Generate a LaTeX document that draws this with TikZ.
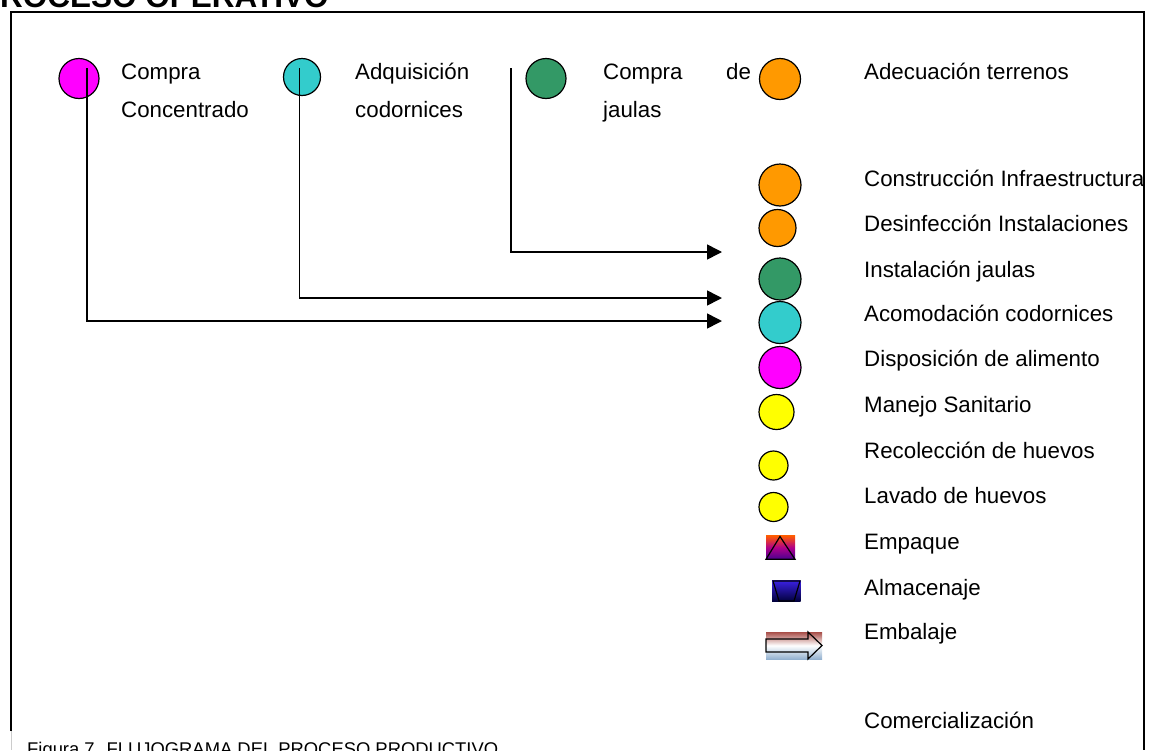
\documentclass[tikz,border=0pt]{standalone}
\usepackage{fontspec}
\setmainfont{Liberation Sans}
\usepackage{xcolor}
\definecolor{magCol}{HTML}{FF00FF}
\definecolor{cyaCol}{HTML}{33CCCC}
\definecolor{grnCol}{HTML}{339966}
\definecolor{orgCol}{HTML}{FF9900}
\definecolor{yelCol}{HTML}{FFFF00}
\definecolor{empTop}{HTML}{FF5A00}
\definecolor{empMid}{HTML}{B0008A}
\definecolor{empBot}{HTML}{4A0090}
\definecolor{almTop}{HTML}{3A20E0}
\definecolor{almBot}{HTML}{000038}
\definecolor{embTop}{HTML}{A84E48}
\definecolor{embBot}{HTML}{94B2D0}
\usetikzlibrary{arrows.meta,positioning}

\tikzset{
  dot/.style={circle, draw=black, line width=1.2pt, inner sep=0pt},
  lbl/.style={anchor=base west, inner sep=0pt, font=\fontsize{22.3}{26}\selectfont},
  flow/.style={->, line width=1.6pt},
}

\begin{document}
\begin{tikzpicture}[x=1pt, y=-1pt, >={Triangle[length=15pt, width=15pt]}]
    \useasboundingbox (0,0) rectangle (1149,750);
    \clip (0,0) rectangle (1149,750);

    % Parameters
    \def\colX{759}   % left edge of right column symbols
    \def\txtX{864}   % right column labels
    \def\tipX{722}   % arrow tips

    % Title and caption (cut by the page)
    \node[anchor=base west, inner sep=0pt, font=\bfseries\fontsize{31.5}{36}\selectfont] (title) at (-21,7) {PROCESO OPERATIVO};
    \node[anchor=base west, inner sep=0pt, font=\fontsize{18.4}{22}\selectfont] (caption) at (27,755) {Figura 7. FLUJOGRAMA DEL PROCESO PRODUCTIVO};

    % Frame
    \draw[line width=1.6pt] (11,731) -- (11,12) -- (1144,12) -- (1144,750);
    \draw[gray!40, line width=0.6pt] (11,731) -- (11,750);

    % Top row
    \node[dot, fill=magCol, minimum size=40pt] (cConc) at (79,78.5) {};
    \node[lbl] (tConcA) at (121,79) {Compra};
    \node[lbl] (tConcB) at (121,117) {Concentrado};

    \node[dot, fill=cyaCol, minimum size=37pt] (cCodo) at (302,77) {};
    \node[lbl] (tCodoA) at (355,79) {Adquisición};
    \node[lbl] (tCodoB) at (355,117) {codornices};

    \node[dot, fill=grnCol, minimum size=40pt] (cJaul) at (546,78.5) {};
    \node[lbl] (tJaulA) at (603,79) {Compra};
    \node[lbl] (tJaulDe) at (726,79) {de};
    \node[lbl] (tJaulB) at (603,117) {jaulas};

    \node[dot, fill=orgCol, minimum size=41pt] (cAdec) at (780,79) {};
    \node[lbl] (tAdec) at (\txtX,79) {Adecuación terrenos};

    % Right column: circles
    \foreach \n/\r/\cy/\col/\ty/\txt in {
        1/21/185/orgCol/186/Construcción Infraestructura,
        2/18.5/228/orgCol/231.7/Desinfección Instalaciones,
        3/21/279/grnCol/277.7/Instalación jaulas,
        4/21/322.5/cyaCol/321.7/Acomodación codornices,
        5/21/367.5/magCol/366.7/Disposición de alimento,
        6/17.5/412/yelCol/412.7/Manejo Sanitario,
        7/14.5/465.5/yelCol/458.3/Recolección de huevos,
        8/14.5/507/yelCol/503.3/Lavado de huevos} {
        \node[dot, fill=\col, minimum size=2*\r pt] (r\n) at (\colX+\r, \cy) {};
        \node[lbl] (t\n) at (\txtX, \ty) {\txt};
    }

    % Empaque
    \shade[top color=empTop, bottom color=empBot, middle color=empMid] (766,535.7) rectangle (795,559.3);
    \draw[line width=1.2pt] (766,559.3) -- (780,536.5) -- (795,559.3) -- cycle;
    \node[lbl] (t9) at (\txtX,549.3) {Empaque};

    % Almacenaje
    \shade[top color=almTop, bottom color=almBot] (772,580.7) rectangle (800.7,601.7);
    \draw[line width=1.2pt] (773,581) -- (800,581) -- (794,601) -- (779,601) -- cycle;
    \node[lbl] (t10) at (\txtX,595) {Almacenaje};

    % Embalaje
    \shade[top color=embTop, bottom color=embBot, middle color=white] (766,632) rectangle (822,659);
    \draw[line width=1.2pt] (766,639) -- (808,639) -- (808,632) -- (822,645.5)
        -- (808,659) -- (808,652) -- (766,652) -- cycle;
    \node[lbl] (t11) at (\txtX,639.3) {Embalaje};

    \node[lbl] (t12) at (\txtX,728.3) {Comercialización};

    % Connectors
    \coordinate (concTop) at (87,68);
    \coordinate (concEnd) at (\tipX,321);
    \coordinate (codoTop) at (299.5,68);
    \coordinate (codoEnd) at (\tipX,298);
    \coordinate (jaulTop) at (511,68);
    \coordinate (jaulEnd) at (\tipX,252);
    \draw[flow] (concTop) |- (concEnd);
    \draw[flow] (codoTop) |- (codoEnd);
    \draw[flow] (jaulTop) |- (jaulEnd);
\end{tikzpicture}
\end{document}
